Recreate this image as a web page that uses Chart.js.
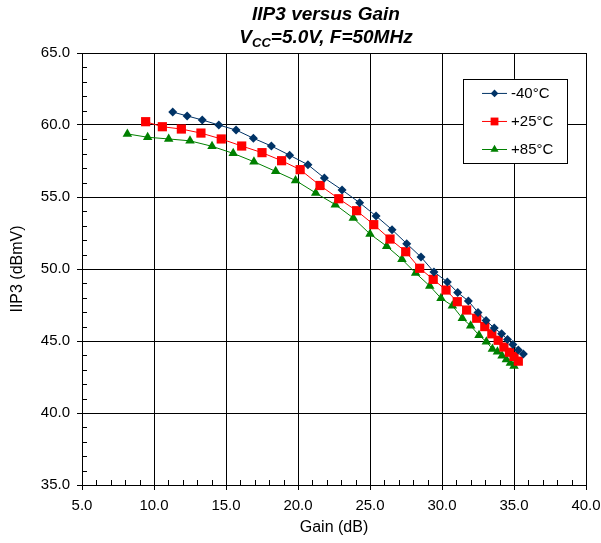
<!DOCTYPE html>
<html>
<head>
<meta charset="utf-8">
<script src="https://cdn.jsdelivr.net/npm/chart.js@4.4.1/dist/chart.umd.min.js"></script>
<style>
  html, body { margin: 0; padding: 0; background: #fff; }
  #wrap { position: relative; width: 601px; height: 543px; font-family: "Liberation Sans", Arial, sans-serif; }
  #title { position: absolute; left: 126px; width: 400px; top: 2px; text-align: center;
           font-weight: bold; font-style: italic; font-size: 19px; line-height: 23px; color: #000; }
  #title sub { font-size: 13px; vertical-align: -4px; line-height: 0; }
  canvas { position: absolute; left: 0; top: 0; }
</style>
</head>
<body>
<div id="wrap">
  <canvas id="c" width="601" height="543"></canvas>
  <div id="title">IIP3 versus Gain<br>V<sub>CC</sub>=5.0V, F=50MHz</div>
</div>
<script>
// ---- data ----
const seriesLabels = ['-40\u00B0C', '+25\u00B0C', '+85\u00B0C'];

const gainM40 = [11.3, 12.3, 13.35, 14.5, 15.7, 16.9, 18.15, 19.42, 20.69, 21.83, 23.06, 24.28, 25.42, 26.53, 27.55, 28.54, 29.44, 30.37, 31.09, 31.83, 32.5, 33.06, 33.63, 34.14, 34.55, 34.92, 35.3, 35.65];
const iip3M40 = [60.9, 60.63, 60.35, 60.0, 59.65, 59.08, 58.54, 57.9, 57.24, 56.32, 55.49, 54.6, 53.68, 52.73, 51.76, 50.83, 49.8, 49.1, 48.36, 47.78, 46.98, 46.42, 45.9, 45.5, 45.1, 44.75, 44.38, 44.1];

const gain25 = [9.42, 10.58, 11.9, 13.26, 14.67, 16.09, 17.5, 18.86, 20.15, 21.53, 22.83, 24.07, 25.26, 26.39, 27.48, 28.45, 29.39, 30.28, 31.06, 31.71, 32.41, 32.97, 33.46, 33.9, 34.3, 34.68, 35.0, 35.3];
const iip325 = [60.23, 59.88, 59.72, 59.44, 59.03, 58.54, 58.08, 57.52, 56.9, 55.8, 54.88, 54.05, 53.08, 52.08, 51.2, 50.05, 49.28, 48.54, 47.73, 47.15, 46.58, 46.0, 45.5, 45.05, 44.58, 44.22, 43.93, 43.6];

const gain85 = [8.15, 9.56, 11.02, 12.5, 14.03, 15.5, 16.94, 18.45, 19.83, 21.23, 22.59, 23.84, 25.0, 26.16, 27.22, 28.17, 29.15, 29.93, 30.72, 31.41, 31.99, 32.57, 33.08, 33.5, 33.85, 34.17, 34.47, 34.75, 35.0];
const iip385 = [59.38, 59.15, 59.03, 58.9, 58.52, 58.03, 57.45, 56.78, 56.15, 55.28, 54.47, 53.54, 52.43, 51.58, 50.67, 49.72, 48.82, 47.97, 47.45, 46.58, 46.06, 45.4, 44.95, 44.45, 44.25, 43.98, 43.72, 43.48, 43.26];

const xMin = 5, xMax = 40, xMajor = 5, xMinor = 1;
const yMin = 35, yMax = 65, yMajor = 5, yMinor = 1;
const xTitle = 'Gain (dB)';
const yTitle = 'IIP3 (dBmV)';

// ---- build ----
function pts(xs, ys) { return xs.map((x, i) => ({ x: x, y: ys[i] })); }

const colors = ['#003366', '#ff0000', '#008000'];
const styles = ['rectRot', 'rect', 'triangle'];
const radii = [4.5, 6.5, 5.5];

const datasets = [
  pts(gainM40, iip3M40), pts(gain25, iip325), pts(gain85, iip385)
].map((d, i) => ({
  label: seriesLabels[i],
  data: d,
  showLine: true,
  borderColor: colors[i],
  backgroundColor: colors[i],
  borderWidth: 1,
  pointStyle: styles[i],
  pointRadius: radii[i],
  pointHoverRadius: radii[i],
  pointBorderWidth: 0,
  pointBackgroundColor: colors[i],
  pointBorderColor: colors[i]
}));

const FONT = '"Liberation Sans", Arial, sans-serif';

const minorTicks = {
  id: 'minorTicks',
  afterDraw(chart) {
    const ctx = chart.ctx, xs = chart.scales.x, ys = chart.scales.y, a = chart.chartArea;
    ctx.save();
    ctx.strokeStyle = '#000';
    ctx.lineWidth = 1;
    ctx.beginPath();
    for (let v = xMin; v <= xMax + 1e-9; v += xMinor) {
      if (Math.abs(v % xMajor) < 1e-9) continue;
      const px = Math.round(xs.getPixelForValue(v)) + 0.5;
      ctx.moveTo(px, a.bottom); ctx.lineTo(px, a.bottom - 5);
    }
    for (let v = yMin; v <= yMax + 1e-9; v += yMinor) {
      if (Math.abs(v % yMajor) < 1e-9) continue;
      const py = Math.round(ys.getPixelForValue(v)) + 0.5;
      ctx.moveTo(a.left, py); ctx.lineTo(a.left + 5, py);
    }
    ctx.stroke();
    ctx.restore();
  }
};

const boxLegend = {
  id: 'boxLegend',
  afterDraw(chart) {
    const ctx = chart.ctx, xs = chart.scales.x, ys = chart.scales.y;
    const left = xs.getPixelForValue(31.46), right = xs.getPixelForValue(38.68);
    const top = ys.getPixelForValue(63.2), bottom = ys.getPixelForValue(57.36);
    ctx.save();
    ctx.fillStyle = '#fff';
    ctx.fillRect(left, top, right - left, bottom - top);
    ctx.strokeStyle = '#000';
    ctx.lineWidth = 1;
    ctx.strokeRect(Math.round(left) + 0.5, Math.round(top) + 0.5, Math.round(right - left), Math.round(bottom - top));
    const rowH = (bottom - top) / 3;
    chart.data.datasets.forEach((ds, i) => {
      const cy = top + rowH * (i + 0.5) + 0.5;
      const x0 = left + 19, x1 = left + 44;
      ctx.strokeStyle = ds.borderColor;
      ctx.lineWidth = 1;
      ctx.beginPath(); ctx.moveTo(x0, cy); ctx.lineTo(x1, cy); ctx.stroke();
      ctx.fillStyle = ds.backgroundColor;
      Chart.helpers.drawPoint(ctx, { pointStyle: ds.pointStyle, radius: ds.pointRadius * 0.85, borderWidth: 0 }, (x0 + x1) / 2, cy);
      ctx.fillStyle = '#000';
      ctx.font = '15px ' + FONT;
      ctx.textBaseline = 'middle';
      ctx.textAlign = 'left';
      ctx.fillText(ds.label, x1 + 4, cy);
    });
    ctx.restore();
  }
};

new Chart(document.getElementById('c'), {
  type: 'scatter',
  data: { datasets: datasets },
  plugins: [minorTicks, boxLegend],
  options: {
    responsive: false,
    animation: false,
    devicePixelRatio: 1,
    layout: { padding: { top: 53, right: 15, left: 0, bottom: 0 } },
    plugins: { legend: { display: false }, tooltip: { enabled: false } },
    scales: {
      x: {
        type: 'linear', min: xMin, max: xMax,
        afterFit(s) { s.height = 58; s.paddingLeft = 0; s.paddingRight = 0; },
        ticks: {
          stepSize: xMinor, autoSkip: false, maxRotation: 0, padding: 7,
          color: '#000', font: { family: FONT, size: 15 },
          callback: v => (Math.abs(v % xMajor) < 1e-9 ? v.toFixed(1) : '')
        },
        grid: {
          color: c => (Math.abs(c.tick.value % xMajor) < 1e-9 ? '#000' : 'rgba(0,0,0,0)'),
          tickColor: c => (Math.abs(c.tick.value % xMajor) < 1e-9 ? '#000' : 'rgba(0,0,0,0)'),
          tickLength: 5, lineWidth: 1
        },
        border: { display: true, color: '#000', width: 1 },
        title: { display: true, text: xTitle, color: '#000', font: { family: FONT, size: 16 }, padding: { top: 0, bottom: 6 } }
      },
      y: {
        type: 'linear', min: yMin, max: yMax,
        afterFit(s) { s.width = 82; s.paddingTop = 0; s.paddingBottom = 0; },
        ticks: {
          stepSize: yMinor, autoSkip: false, padding: 7,
          color: '#000', font: { family: FONT, size: 15 },
          callback: v => (Math.abs(v % yMajor) < 1e-9 ? v.toFixed(1) : '')
        },
        grid: {
          color: c => (Math.abs(c.tick.value % yMajor) < 1e-9 ? '#000' : 'rgba(0,0,0,0)'),
          tickColor: c => (Math.abs(c.tick.value % yMajor) < 1e-9 ? '#000' : 'rgba(0,0,0,0)'),
          tickLength: 5, lineWidth: 1
        },
        border: { display: true, color: '#000', width: 1 },
        title: { display: true, text: yTitle, color: '#000', font: { family: FONT, size: 16 }, padding: { top: 8, bottom: 0 } }
      }
    }
  }
});
</script>
</body>
</html>
